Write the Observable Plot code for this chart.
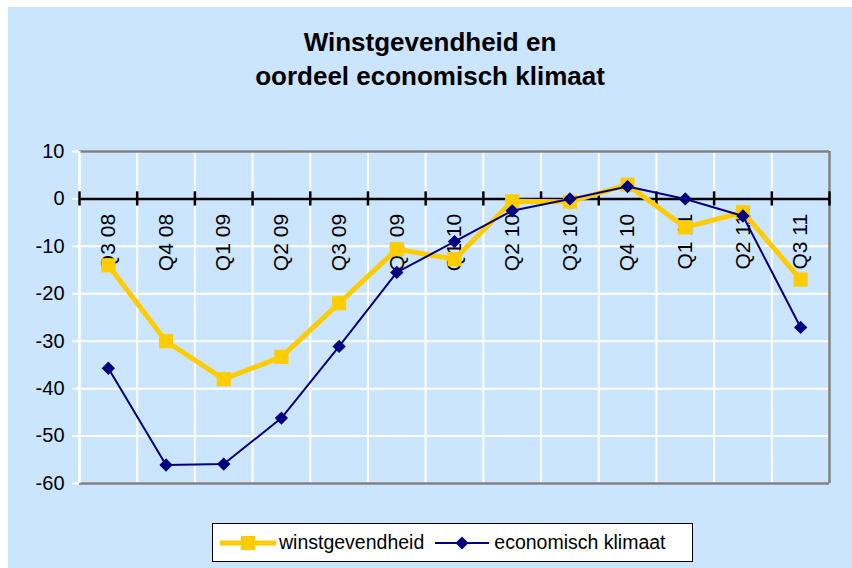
<!DOCTYPE html>
<html>
<head>
<meta charset="utf-8">
<script src="https://cdn.jsdelivr.net/npm/d3@7"></script>
<script src="https://cdn.jsdelivr.net/npm/@observablehq/plot@0.6"></script>
<style>
  html, body { margin: 0; padding: 0; background: #ffffff; }
  #page { position: relative; width: 852px; height: 568px; overflow: hidden; font-family: Arial, "Liberation Sans", sans-serif; }
  #panel { position: absolute; left: 8px; top: 7px; right: 0; bottom: 0; background: #CCE5FF; }
  #title { position: absolute; left: 8px; right: 0; top: 25px; text-align: center; font-weight: bold; font-size: 26px; line-height: 34px; color: #000; }
  #chart { position: absolute; left: 0; top: 0; }
  #legend { position: absolute; left: 212px; top: 523px; width: 479px; height: 37px; background: #fff; border: 1.5px solid #000; display: flex; align-items: center; font-size: 19.5px; color: #000; }
  #legend .item { display: flex; align-items: center; }
  #legend svg { display: block; }
</style>
</head>
<body>
<div id="page">
  <div id="panel"></div>
  <div id="title">Winstgevendheid en<br>oordeel economisch klimaat</div>
  <div id="chart"></div>
  <div id="legend">
    <div class="item" style="margin-left:6px">
      <svg width="58" height="20"><line x1="1" x2="57" y1="10" y2="10" stroke="#FFCC00" stroke-width="5"/><rect x="22" y="3" width="14" height="14" fill="#FFCC00"/></svg>
      <span style="margin-left:2px">winstgevendheid</span>
    </div>
    <div class="item" style="margin-left:10px">
      <svg width="56" height="20"><line x1="1" x2="55" y1="10" y2="10" stroke="#000080" stroke-width="2"/><path d="M28,3.5 L34.5,10 L28,16.5 L21.5,10 Z" fill="#000080"/></svg>
      <span style="margin-left:4px">economisch klimaat</span>
    </div>
  </div>
</div>
<script>
const categories = ["Q3 08","Q4 08","Q1 09","Q2 09","Q3 09","Q4 09","Q1 10","Q2 10","Q3 10","Q4 10","Q1 11","Q2 11","Q3 11"];
const winstgevendheid = [-14, -30, -38, -33.3, -22, -10.6, -12.7, -0.5, -0.6, 3, -6, -2.8, -17];
const economischKlimaat = [-35.7, -56.1, -55.9, -46.2, -31.1, -15.5, -9, -2.5, 0, 2.6, 0, -3.6, -27.1];
const yTicks = [10, 0, -10, -20, -30, -40, -50, -60];

const idx = categories.map((_, i) => i);
const boundaries = d3.range(categories.length + 1).map(i => i - 0.5);
const winData = categories.map((c, i) => ({i, c, v: winstgevendheid[i]}));
const ekData = categories.map((c, i) => ({i, c, v: economischKlimaat[i]}));

const chart = Plot.plot({
  width: 852,
  height: 568,
  marginLeft: 79,
  marginRight: 23,
  marginTop: 151,
  marginBottom: 85,
  style: {background: "transparent", fontFamily: "Arial, 'Liberation Sans', sans-serif", fontSize: "20px", color: "#000", overflow: "visible"},
  x: {domain: [-0.5, categories.length - 0.5], axis: null},
  y: {domain: [-60, 10], axis: null},
  marks: [
    // grid
    Plot.ruleY(yTicks, {stroke: "#ffffff", strokeWidth: 2}),
    Plot.ruleX(boundaries, {stroke: "#ffffff", strokeWidth: 2}),
    // frame top, bottom, right (grey)
    Plot.ruleY([10, -60], {stroke: "#808080", strokeWidth: 2.5}),
    Plot.ruleX([categories.length - 0.5], {stroke: "#808080", strokeWidth: 2.5}),
    Plot.ruleX([-0.5], {stroke: "#ffffff", strokeWidth: 2}),
    // y axis
    Plot.axisY(yTicks, {label: null, tickFormat: d => String(d), tickSize: 7, tickPadding: 8, stroke: "#ffffff", strokeWidth: 2, fill: "#000", fontSize: 20}),
    // zero line with category ticks
    Plot.ruleY([0], {stroke: "#000", strokeWidth: 2.5}),
    Plot.ruleX(boundaries, {x: d => d, y1: -1.5, y2: 1.5, stroke: "#000", strokeWidth: 2.5}),
    // category labels
    Plot.text(idx, {x: d => d, y: 0, text: d => categories[d], rotate: -90, textAnchor: "end", dy: 15, fontSize: 21, fill: "#000"}),
    // series
    Plot.line(winData, {x: "i", y: "v", stroke: "#FFCC00", strokeWidth: 5, strokeLinejoin: "miter"}),
    Plot.dot(winData, {x: "i", y: "v", symbol: "square", r: 8, fill: "#FFCC00", stroke: "none"}),
    Plot.line(ekData, {x: "i", y: "v", stroke: "#000080", strokeWidth: 2}),
    Plot.dot(ekData, {x: "i", y: "v", symbol: "diamond2", r: 6, fill: "#000080", stroke: "none"})
  ]
});
document.getElementById("chart").appendChild(chart);
</script>
</body>
</html>
